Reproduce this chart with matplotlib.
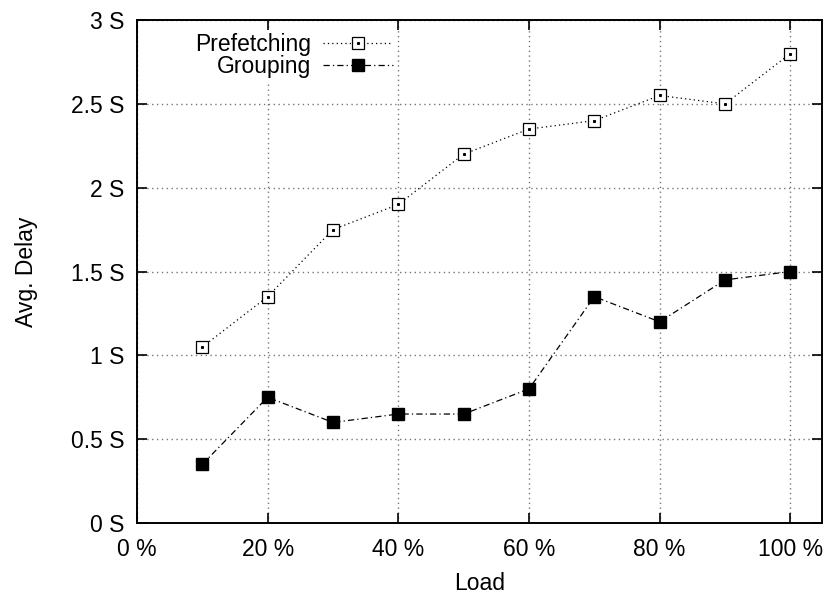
import matplotlib
matplotlib.use("Agg")
import matplotlib.pyplot as plt
from matplotlib.ticker import FuncFormatter
from matplotlib.legend_handler import HandlerTuple

plt.rcParams['font.family'] = ['Liberation Sans', 'DejaVu Sans']

# load levels (%) and average delay (seconds)
load = [10, 20, 30, 40, 50, 60, 70, 80, 90, 100]
prefetching = [1.05, 1.35, 1.75, 1.9, 2.2, 2.35, 2.4, 2.55, 2.5, 2.8]
grouping = [0.35, 0.75, 0.6, 0.65, 0.65, 0.8, 1.35, 1.2, 1.45, 1.5]

fs = 16.5

fig = plt.figure(figsize=(8.3, 6), dpi=100)
ax = fig.add_axes([0.165, 0.1283, 0.825, 0.8383])

p_line, = ax.plot(load, prefetching, color='black', linestyle=(0, (1, 2.5)),
                  linewidth=0.9, marker='s', markersize=8.5,
                  markerfacecolor='white', markeredgecolor='black',
                  markeredgewidth=0.9)
# small centre dot inside the hollow squares
p_dot, = ax.plot(load, prefetching, linestyle='none', marker='s',
                 markersize=1.2, color='black')
g_line, = ax.plot(load, grouping, color='black', linestyle=(0, (5, 2.5, 1, 2.5)),
                  linewidth=0.9, marker='s', markersize=8.5,
                  markerfacecolor='black', markeredgecolor='black')

ax.set_xlim(0, 104.8)
ax.set_ylim(0, 3)
ax.set_xticks(range(0, 101, 20))
ax.set_yticks([0, 0.5, 1, 1.5, 2, 2.5, 3])
ax.xaxis.set_major_formatter(FuncFormatter(lambda v, p: '%d %%' % v))
ax.yaxis.set_major_formatter(FuncFormatter(lambda v, p: '%g S' % v))
ax.tick_params(direction='in', length=7, width=1.2, labelsize=fs,
               top=True, right=True)
ax.tick_params(axis='x', pad=11)
ax.tick_params(axis='y', pad=9)
ax.grid(True, color='#777777', linestyle=(0, (1, 2.5)), linewidth=1)
ax.set_axisbelow(True)
for sp in ax.spines.values():
    sp.set_linewidth(1.4)

ax.set_xlabel('Load', fontsize=fs, labelpad=8)
ax.set_ylabel('Avg. Delay', fontsize=fs, labelpad=24)

leg = ax.legend([(p_line, p_dot), g_line], ['Prefetching', 'Grouping'],
                handler_map={tuple: HandlerTuple(ndivide=1, pad=0)},
                loc='upper left', bbox_to_anchor=(0.082, 0.979), frameon=True,
                markerfirst=False, fontsize=fs, handlelength=3.05,
                handletextpad=0.5, labelspacing=-0.05, borderpad=0.1,
                borderaxespad=0)
leg.get_frame().set_edgecolor('white')
leg.get_frame().set_facecolor('white')
leg.get_frame().set_alpha(1)
leg.get_frame().set_boxstyle('square', pad=0)
for t in leg.get_texts():
    t.set_ha('right')
leg._legend_box.align = 'right'

fig.savefig('out.png', dpi=100)
